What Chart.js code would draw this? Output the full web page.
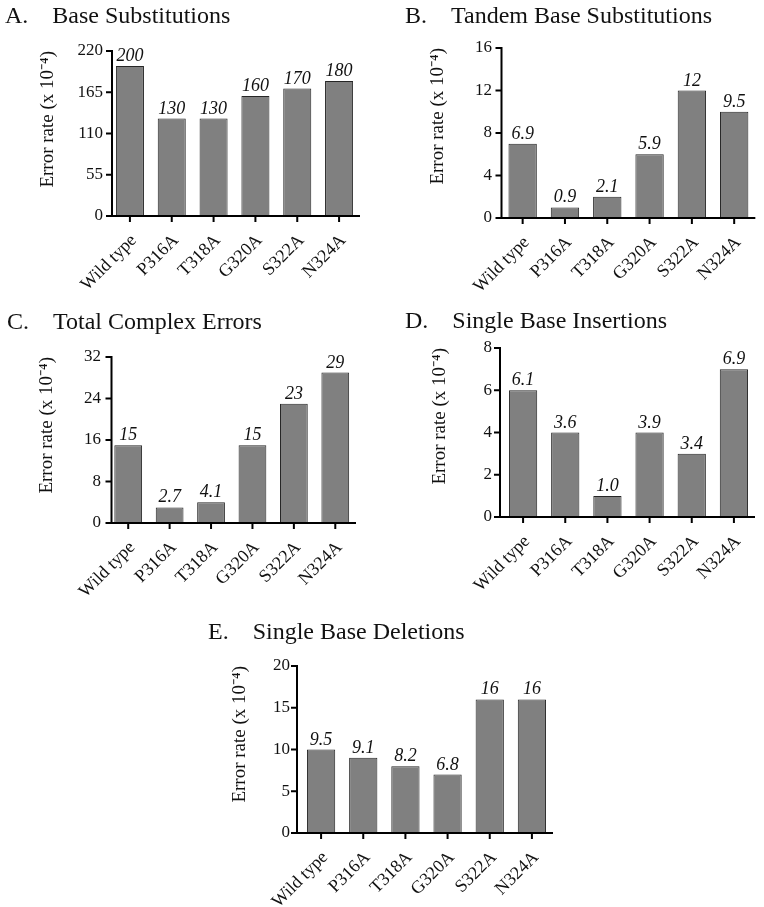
<!DOCTYPE html>
<html><head><meta charset="utf-8">
<script src="https://cdn.jsdelivr.net/npm/chart.js@4.4.0/dist/chart.umd.min.js"></script>
<style>
html,body{margin:0;padding:0;background:#fff;}
body{width:764px;height:907px;position:relative;overflow:hidden;}
canvas{position:absolute;}
</style></head><body>
<canvas id="cA"></canvas>
<canvas id="cB"></canvas>
<canvas id="cC"></canvas>
<canvas id="cD"></canvas>
<canvas id="cE"></canvas>
<script>
// ---- data ----
const categories = ['Wild type', 'P316A', 'T318A', 'G320A', 'S322A', 'N324A'];

const baseSubValues = [200, 130, 130, 160, 170, 180];
const baseSubLabels = ['200', '130', '130', '160', '170', '180'];
const baseSubTicks = [0, 55, 110, 165, 220];

const tandemValues = [7, 1, 2, 6, 12, 10];
const tandemLabels = ['6.9', '0.9', '2.1', '5.9', '12', '9.5'];
const tandemTicks = [0, 4, 8, 12, 16];

const complexValues = [15, 3, 4, 15, 23, 29];
const complexLabels = ['15', '2.7', '4.1', '15', '23', '29'];
const complexTicks = [0, 8, 16, 24, 32];

const insertionValues = [6, 4, 1, 4, 3, 7];
const insertionLabels = ['6.1', '3.6', '1.0', '3.9', '3.4', '6.9'];
const insertionTicks = [0, 2, 4, 6, 8];

const deletionValues = [10, 9, 8, 7, 16, 16];
const deletionLabels = ['9.5', '9.1', '8.2', '6.8', '16', '16'];
const deletionTicks = [0, 5, 10, 15, 20];

const yAxisTitle = 'Error rate (x 10\u207B\u2074)';

// ---- drawing ----
const SERIF = "'Liberation Serif', 'Times New Roman', serif";

const axesPlugin = {
  id: 'axesPlugin',
  afterDraw(chart, args, opts) {
    const {ctx, chartArea, scales} = chart;
    const x = scales.x, y = scales.y;
    const ax = chartArea.left + opts.axisOffset;
    const bottom = chartArea.bottom;
    ctx.save();
    ctx.strokeStyle = '#000';
    ctx.lineWidth = 2;
    ctx.beginPath();
    ctx.moveTo(ax, y.getPixelForValue(y.max) - 1);
    ctx.lineTo(ax, bottom);
    y.ticks.forEach(t => {
      const py = y.getPixelForValue(t.value);
      ctx.moveTo(ax - 6, py);
      ctx.lineTo(ax, py);
    });
    ctx.moveTo(ax - 6, bottom);
    ctx.lineTo(chartArea.right, bottom);
    x.ticks.forEach((t, i) => {
      const px = x.getPixelForTick(i);
      ctx.moveTo(px, bottom);
      ctx.lineTo(px, bottom + 6);
    });
    ctx.stroke();
    ctx.restore();
  }
};

const valueLabelPlugin = {
  id: 'valueLabelPlugin',
  afterDatasetsDraw(chart, args, opts) {
    const {ctx} = chart;
    const meta = chart.getDatasetMeta(0);
    ctx.save();
    ctx.fillStyle = '#111';
    ctx.font = 'italic 18px ' + SERIF;
    ctx.textAlign = 'center';
    ctx.textBaseline = 'alphabetic';
    meta.data.forEach((bar, i) => {
      ctx.fillText(opts.labels[i], bar.x, bar.y - 5);
    });
    ctx.restore();
  }
};

function makePanel(canvasId, title, values, labels, ticks, g) {
  const canvas = document.getElementById(canvasId);
  canvas.width = g.w; canvas.height = g.h;
  canvas.style.left = g.x0 + 'px'; canvas.style.top = g.y0 + 'px';
  canvas.style.width = g.w + 'px'; canvas.style.height = g.h + 'px';
  const L = g.left - g.x0, R = g.right - g.x0, T = g.top - g.y0, B = g.bottom - g.y0;
  const tX = g.titleX - g.x0;
  const titleSize = 24, titleLH = titleSize * 1.2;
  const mid = (g.titleBase - g.y0) - 0.3 * titleSize;
  const tPadTop = mid - titleLH / 2;
  const tPadBottom = T - tPadTop - titleLH;
  const ySize = 19, yLH = ySize * 1.2;
  const yTitlePad = (g.yTitleX - g.x0) - tX - yLH / 2;

  return new Chart(canvas, {
    type: 'bar',
    data: {
      labels: categories,
      datasets: [{
        data: values,
        backgroundColor: '#808080',
        borderColor: '#262626',
        borderWidth: 1,
        barPercentage: 0.67,
        categoryPercentage: 1.0
      }]
    },
    options: {
      responsive: false,
      animation: false,
      events: [],
      layout: {padding: {left: tX, top: 0, right: g.w - R, bottom: 0}},
      plugins: {
        legend: {display: false},
        tooltip: {enabled: false},
        title: {
          display: true, text: title, align: 'start', color: '#111',
          font: {family: SERIF, size: titleSize, weight: 'normal', lineHeight: 1.2},
          padding: {top: tPadTop, bottom: tPadBottom}
        },
        axesPlugin: {axisOffset: g.axisOffset},
        valueLabelPlugin: {labels: labels}
      },
      scales: {
        x: {
          offset: true,
          grid: {display: false, drawTicks: false},
          border: {display: false},
          ticks: {
            color: '#111', maxRotation: 45, minRotation: 45, padding: 14, labelOffset: 4,
            font: {family: SERIF, size: 18}
          },
          afterFit(scale) { scale.height = g.h - B; }
        },
        y: {
          min: ticks[0], max: ticks[ticks.length - 1],
          grid: {display: false, drawTicks: false},
          border: {display: false},
          ticks: {
            color: '#111', stepSize: ticks[1] - ticks[0], padding: L - (g.labelRight - g.x0),
            font: {family: SERIF, size: 17}
          },
          title: {
            display: true, text: yAxisTitle, align: 'end', color: '#111',
            font: {family: SERIF, size: ySize, lineHeight: 1.2},
            padding: {top: yTitlePad, bottom: 0}
          },
          afterFit(scale) { scale.width = L - tX; }
        }
      }
    },
    plugins: [axesPlugin, valueLabelPlugin]
  });
}

makePanel('cA', 'A.    Base Substitutions', baseSubValues, baseSubLabels, baseSubTicks,
  {x0: 0, y0: 0, w: 380, h: 300, titleX: 5, titleBase: 24, left: 109, right: 360, top: 51, bottom: 216,
   yTitleX: 48, labelRight: 103, axisOffset: 3});
makePanel('cB', 'B.    Tandem Base Substitutions', tandemValues, tandemLabels, tandemTicks,
  {x0: 380, y0: 0, w: 384, h: 300, titleX: 405, titleBase: 24, left: 501.5, right: 757.5, top: 48, bottom: 218,
   yTitleX: 438, labelRight: 492, axisOffset: 0});
makePanel('cC', 'C.    Total Complex Errors', complexValues, complexLabels, complexTicks,
  {x0: 0, y0: 300, w: 380, h: 300, titleX: 7, titleBase: 330, left: 107.5, right: 356, top: 357, bottom: 523,
   yTitleX: 47, labelRight: 101, axisOffset: 4});
makePanel('cD', 'D.    Single Base Insertions', insertionValues, insertionLabels, insertionTicks,
  {x0: 380, y0: 300, w: 384, h: 300, titleX: 405, titleBase: 329, left: 502, right: 755, top: 348, bottom: 517,
   yTitleX: 440, labelRight: 492, axisOffset: -2});
makePanel('cE', 'E.    Single Base Deletions', deletionValues, deletionLabels, deletionTicks,
  {x0: 200, y0: 600, w: 400, h: 307, titleX: 208, titleBase: 640, left: 300, right: 553, top: 666, bottom: 833,
   yTitleX: 240, labelRight: 290, axisOffset: -3});
</script>
</body></html>
